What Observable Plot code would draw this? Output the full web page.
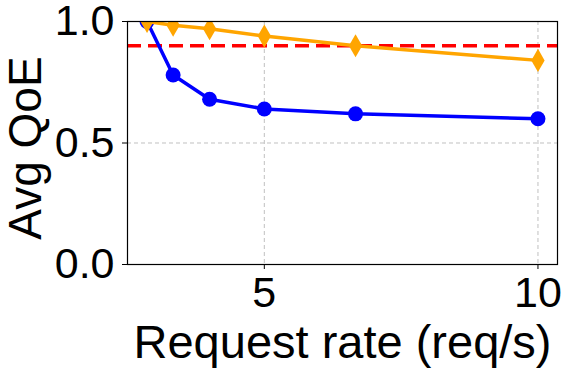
<!DOCTYPE html>
<html>
<head>
<meta charset="utf-8">
<script src="https://cdn.jsdelivr.net/npm/d3@7"></script>
<script src="https://cdn.jsdelivr.net/npm/@observablehq/plot@0.6"></script>
<style>
  html, body { margin: 0; padding: 0; background: #fff; }
  svg { display: block; }
</style>
</head>
<body>
<div id="chart"></div>
<script>
const rates = [20/7, 10/3, 4, 5, 20/3, 10];
const blueQoE = [1.0, 0.78, 0.68, 0.64, 0.62, 0.60];
const orangeQoE = [1.0, 0.985, 0.97, 0.94, 0.90, 0.84];
const threshold = 0.9;
const xTicks = [5, 10];
const yTicks = [0, 0.5, 1.0];
const xLabel = "Request rate (req/s)";
const yLabel = "Avg QoE";

const blue = rates.map((x, i) => ({x, y: blueQoE[i]}));
const orange = rates.map((x, i) => ({x, y: orangeQoE[i]}));

const font = "'Liberation Sans', Arial, sans-serif";

const chart = Plot.plot({
  width: 568,
  height: 371,
  marginLeft: 127,
  marginTop: 21,
  marginRight: 11,
  marginBottom: 107,
  style: {fontFamily: font, background: "#fff", color: "#000"},
  x: {domain: [2.5, 10.357]},
  y: {domain: [0, 1]},
  marks: [
    Plot.gridX(xTicks, {stroke: "#b0b0b0", strokeOpacity: 0.8, strokeDasharray: "4,3", strokeWidth: 1}),
    Plot.gridY([0.5], {stroke: "#b0b0b0", strokeOpacity: 0.8, strokeDasharray: "4,3", strokeWidth: 1}),
    Plot.ruleY([threshold], {stroke: "#ff0000", strokeWidth: 3.5, strokeDasharray: "14,7"}),
    Plot.line(blue, {x: "x", y: "y", stroke: "#0000ff", strokeWidth: 3.5, clip: true}),
    Plot.dot(blue, {x: "x", y: "y", r: 7.5, fill: "#0000ff", stroke: "none", clip: true}),
    Plot.line(orange, {x: "x", y: "y", stroke: "#ffa500", strokeWidth: 3.5, clip: true}),
    Plot.dot(orange, {x: "x", y: "y", r: 7, symbol: "diamond", fill: "#ffa500", stroke: "none", clip: true}),
    Plot.frame({stroke: "#000", strokeWidth: 1.2}),
    Plot.axisX({ticks: xTicks, tickFormat: d3.format("d"), fontSize: 43, tickSize: 5, tickPadding: 7, label: null, stroke: "#000"}),
    Plot.axisY({ticks: yTicks, tickFormat: d3.format(".1f"), fontSize: 43, tickSize: 5, tickPadding: 8, label: null, stroke: "#000"}),
    Plot.text([xLabel], {frameAnchor: "bottom", textAnchor: "middle", dy: 93, fontSize: 47, fill: "#000"}),
    Plot.text([yLabel], {frameAnchor: "left", textAnchor: "middle", lineAnchor: "middle", rotate: -90, dx: -101, dy: 5, fontSize: 46, fill: "#000"})
  ]
});
document.getElementById("chart").appendChild(chart);
</script>
</body>
</html>
